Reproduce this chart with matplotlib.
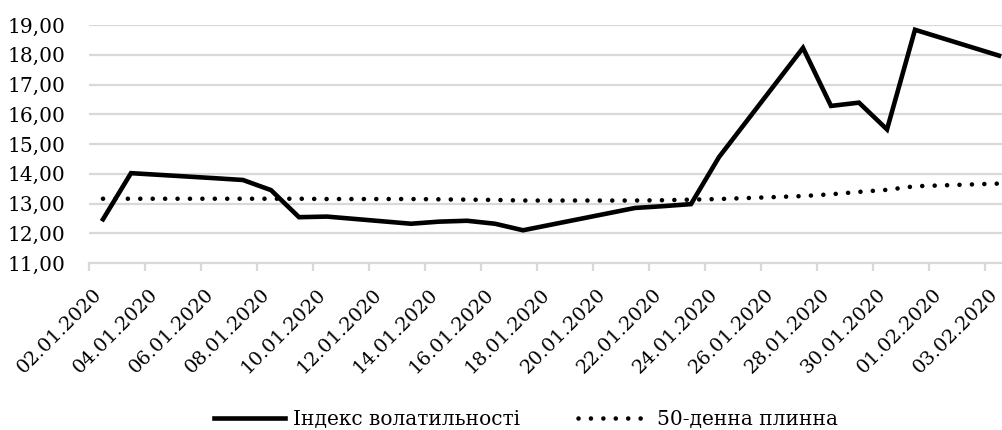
import matplotlib
matplotlib.use("Agg")
import matplotlib.pyplot as plt
import matplotlib.dates as mdates
import matplotlib.transforms as mtransforms
from matplotlib.ticker import FuncFormatter, FixedLocator
import pandas as pd

# Trading days and index values
dates = [
    "2020-01-02", "2020-01-03", "2020-01-06", "2020-01-07", "2020-01-08",
    "2020-01-09", "2020-01-10", "2020-01-13", "2020-01-14", "2020-01-15",
    "2020-01-16", "2020-01-17", "2020-01-21", "2020-01-22", "2020-01-23",
    "2020-01-24", "2020-01-27", "2020-01-28", "2020-01-29", "2020-01-30",
    "2020-01-31", "2020-02-03",
]
vix = [
    12.47, 14.02, 13.85, 13.79, 13.45, 12.54, 12.56, 12.32, 12.39, 12.42,
    12.32, 12.10, 12.85, 12.91, 12.98, 14.56, 18.23, 16.28, 16.39, 15.49,
    18.84, 17.97,
]
ma50 = [
    13.16, 13.16, 13.16, 13.16, 13.16, 13.16, 13.15, 13.15, 13.14, 13.13,
    13.12, 13.10, 13.10, 13.11, 13.13, 13.15, 13.25, 13.31, 13.39, 13.46,
    13.58, 13.67,
]
series_labels = ["Індекс волатильності", "50-денна плинна"]

FONT = "DejaVu Serif"
FS = 14.5
GRID = "#d9d9d9"

x_days = mdates.date2num(pd.to_datetime(dates))
x_pts = x_days + 0.5  # points sit in the middle of each day slot
start = mdates.date2num(pd.Timestamp("2020-01-02"))
tick_days = [start + 2 * i for i in range(17)]

fig = plt.figure(figsize=(10.02, 4.30), dpi=100)
ax = fig.add_axes([89 / 1002, 1 - 263 / 430, 924 / 1002, 238 / 430])

ax.plot(x_pts, vix, color="black", lw=3.3, solid_joinstyle="miter", zorder=3,
        label=series_labels[0])
ax.plot(x_pts, ma50, color="black", lw=3.3, linestyle=(0, (0.01, 2.7)),
        dash_capstyle="round", zorder=3, label=series_labels[1])

ax.set_ylim(11, 19)
ax.set_xlim(start, start + 33)
ax.set_yticks(range(11, 20))
ax.yaxis.set_major_formatter(FuncFormatter(lambda v, p: f"{v:.2f}".replace(".", ",")))
ax.grid(axis="y", color=GRID, lw=1.6, zorder=0)
ax.set_axisbelow(True)

# tick marks at slot boundaries, labels centred on the slot
ax.xaxis.set_major_locator(FixedLocator(tick_days))
ax.xaxis.set_major_formatter(FuncFormatter(lambda v, p: ""))
ax.xaxis.set_minor_locator(FixedLocator([t + 0.5 for t in tick_days]))
ax.xaxis.set_minor_formatter(FuncFormatter(lambda v, p: mdates.num2date(v).strftime("%d.%m.%Y")))
ax.tick_params(axis="x", which="major", length=6, width=1.6, color=GRID, direction="out")
ax.tick_params(axis="x", which="minor", length=0, pad=11)
ax.tick_params(axis="y", length=0, pad=17)

shift = mtransforms.ScaledTranslation(-10 / 100, -7 / 100, fig.dpi_scale_trans)
for lbl in ax.get_xticklabels(minor=True):
    lbl.set_rotation(45)
    lbl.set_ha("right")
    lbl.set_va("top")
    lbl.set_rotation_mode("anchor")
    lbl.set_fontfamily(FONT)
    lbl.set_fontsize(14)
    lbl.set_transform(lbl.get_transform() + shift)
for lbl in ax.get_yticklabels():
    lbl.set_fontfamily(FONT)
    lbl.set_fontsize(FS)

for side in ["top", "right", "left"]:
    ax.spines[side].set_visible(False)
ax.spines["bottom"].set_color(GRID)
ax.spines["bottom"].set_linewidth(1.6)

fig.legend(loc="center", bbox_to_anchor=(0.525, 0.025), ncol=2, frameon=False,
           handlelength=3.5, columnspacing=2.9, handletextpad=0.4,
           prop={"family": FONT, "size": FS})

fig.savefig("out.png", dpi=100)
